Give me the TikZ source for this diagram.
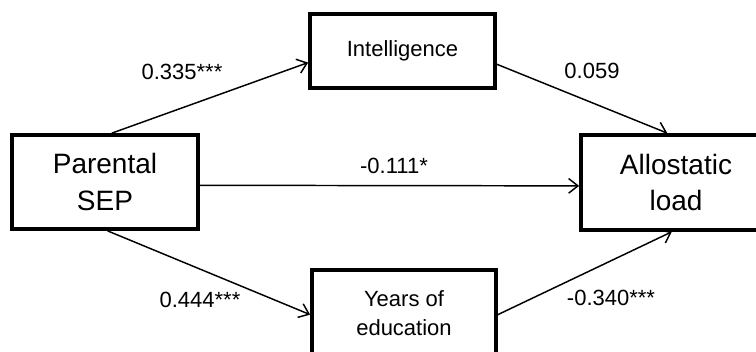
\documentclass[tikz,border=0pt]{standalone}
\usepackage{fontspec}
\setmainfont{Liberation Sans}
\usepackage{xcolor}
\usetikzlibrary{arrows.meta}

\tikzset{
  varbox/.style={draw, line width=2.8pt, rectangle, align=center, inner sep=0pt},
  bigvar/.style={varbox, font=\fontsize{21}{27.5}\selectfont},
  smallvar/.style={varbox, font=\fontsize{16.5}{21.75}\selectfont},
  path/.style={line width=1.1pt, -{Straight Barb[length=7pt, width=11pt, line width=1.1pt]}},
  coef/.style={inner sep=0pt, font=\fontsize{16.5}{20}\selectfont}
}

\begin{document}
\begin{tikzpicture}[x=0.75pt, y=-0.75pt]
\clip (0,0) rectangle (756,352);

\node [bigvar, minimum width=139.5pt, minimum height=70.5pt] (par) at (105,182) {Parental\\SEP};
\node [smallvar, minimum width=138.75pt, minimum height=55.5pt] (int) at (402.5,51) {Intelligence};
\node [bigvar, minimum width=142.5pt, minimum height=71.25pt] (allo) at (676,182.5) {Allostatic\\load};
\node [smallvar, minimum width=138pt, minimum height=64.5pt] (edu) at (404,313) {Years of\\education};

\draw [path] (par.82) -- (int.187);
\draw [path] (int.-8) -- (allo.100);
\draw [path] (par.-2) -- (allo.182);
\draw [path] (par.-87) -- (edu.181);
\draw [path] (edu.-1) -- (allo.265);

\node [coef] (c1) at (182,72) {0.335***};
\node [coef] (c2) at (592,71) {0.059};
\node [coef] (c3) at (394,166) {-0.111*};
\node [coef] (c4) at (200,300) {0.444***};
\node [coef] (c5) at (611,298) {-0.340***};

\end{tikzpicture}
\end{document}
